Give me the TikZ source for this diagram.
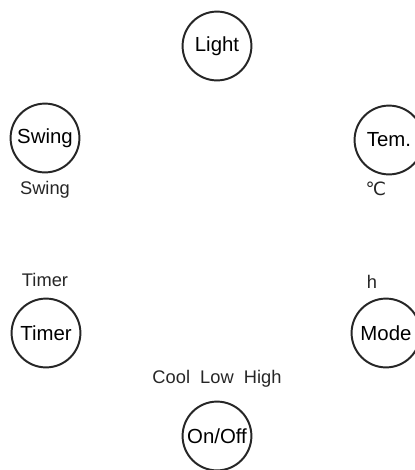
\documentclass[tikz,border=0pt]{standalone}
\usepackage{fontspec}
\setmainfont{Liberation Sans}
\newfontfamily\symfont{DejaVu Sans}
\usepackage{tikz}

\tikzset{
	key/.style={draw=black!85,circle,line width=1.4pt,minimum size=1.72cm,inner sep=0pt,font=\fontsize{14.5}{16}\selectfont},
	lbl/.style={inner sep=0pt,text=black!85,font=\fontsize{13}{15}\selectfont}
}

\begin{document}
\begin{tikzpicture}[x=0.025cm,y=-0.025cm]
		\useasboundingbox (0,0) rectangle (415,470);
		% buttons
		\node[key] (light) at (217,46) {Light};
		\node[key] (swing) at (45,138) {Swing};
		\node[key] (tem) at (389,140) {Tem.};
		\node[key] (timer) at (46,333) {Timer};
		\node[key] (mode) at (386,333) {Mode};
		\node[key] (onoff) at (217,436) {On/Off};
		
		% labels
		\node[lbl] (swinglbl) at (45,190) {Swing};
		\node[lbl] (temlbl) at (376,189) {\symfont ℃};
		\node[lbl] (timerlbl) at (45,280) {Timer};
		\node[lbl] (modelbl) at (372,282) {h};
		\node[lbl] (onofflbl) at (217,379) {Cool\ \ Low\ \ High};
\end{tikzpicture}
\end{document}
